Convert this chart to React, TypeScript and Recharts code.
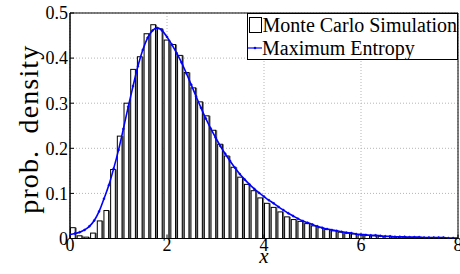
import {
  Bar,
  CartesianGrid,
  ComposedChart,
  Label,
  Legend,
  Line,
  ReferenceArea,
  XAxis,
  YAxis,
} from "recharts";

// histogram bin centres (bin width ~0.138)
const BIN_CENTERS = [
  0.069, 0.207, 0.345, 0.483, 0.621, 0.758, 0.896, 1.034, 1.172, 1.31,
  1.448, 1.586, 1.724, 1.862, 2.0, 2.138, 2.276, 2.414, 2.552, 2.69,
  2.828, 2.966, 3.103, 3.241, 3.379, 3.517, 3.655, 3.793, 3.931, 4.069,
  4.207, 4.345, 4.483, 4.621, 4.759, 4.897, 5.034, 5.172, 5.31, 5.448,
  5.586, 5.724, 5.862, 6.0, 6.138, 6.276, 6.414, 6.552, 6.69, 6.828,
  6.966, 7.103, 7.241, 7.379, 7.517, 7.655, 7.793, 7.931,
];

const MC_DENSITY = [
  0.024, 0.006, 0.003, 0.012, 0.039, 0.062, 0.153, 0.227, 0.3, 0.375,
  0.403, 0.454, 0.474, 0.465, 0.44, 0.43, 0.406, 0.368, 0.334, 0.303,
  0.272, 0.24, 0.209, 0.183, 0.158, 0.136, 0.12, 0.106, 0.09, 0.078,
  0.069, 0.059, 0.048, 0.042, 0.038, 0.033, 0.028, 0.024, 0.02, 0.017,
  0.014, 0.012, 0.01, 0.008, 0.007, 0.006, 0.005, 0.004, 0.003, 0.003,
  0.002, 0.002, 0.001, 0.001, 0.001, 0, 0, 0,
];

const CURVE_X = [
  0, 0.1, 0.2, 0.3, 0.4, 0.5, 0.6, 0.7, 0.8, 0.9,
  1, 1.1, 1.2, 1.3, 1.4, 1.5, 1.6, 1.7, 1.8, 1.9,
  2, 2.1, 2.2, 2.3, 2.4, 2.5, 2.6, 2.7, 2.8, 2.9,
  3, 3.1, 3.2, 3.3, 3.4, 3.5, 3.6, 3.7, 3.8, 3.9,
  4, 4.1, 4.2, 4.3, 4.4, 4.5, 4.6, 4.7, 4.8, 4.9,
  5, 5.1, 5.2, 5.3, 5.4, 5.5, 5.6, 5.7, 5.8, 5.9,
  6, 6.1, 6.2, 6.3, 6.4, 6.5, 6.6, 6.7, 6.8, 6.9,
  7, 7.1, 7.2, 7.3, 7.4, 7.5, 7.6, 7.7, 7.8, 7.9, 8,
];

const ME_DENSITY = [
  0.009, 0.011, 0.014, 0.019, 0.027, 0.04, 0.06, 0.088, 0.118, 0.155,
  0.196, 0.243, 0.292, 0.338, 0.382, 0.418, 0.445, 0.461, 0.467, 0.461,
  0.447, 0.43, 0.411, 0.39, 0.366, 0.341, 0.315, 0.29, 0.266, 0.244,
  0.224, 0.205, 0.188, 0.172, 0.157, 0.143, 0.131, 0.12, 0.11, 0.101,
  0.093, 0.085, 0.078, 0.07, 0.063, 0.056, 0.05, 0.044, 0.039, 0.035,
  0.031, 0.027, 0.024, 0.021, 0.019, 0.017, 0.015, 0.013, 0.012, 0.01,
  0.009, 0.008, 0.007, 0.007, 0.006, 0.005, 0.005, 0.004, 0.004, 0.004,
  0.003, 0.003, 0.003, 0.002, 0.002, 0.002, 0.002, 0.002, 0.001, 0.001, 0.001,
];

const X_TICKS = [0, 2, 4, 6, 8];
const Y_TICKS = [0, 0.1, 0.2, 0.3, 0.4, 0.5];

const SERIF = "Liberation Serif, DejaVu Serif, Noto Serif, serif";
const BLUE = "#0000ff";

const binRows = BIN_CENTERS.map((x, i) => ({ x, mc: MC_DENSITY[i] }));
const curveRows = CURVE_X.map((x, i) => ({ cx: x, me: ME_DENSITY[i] }));

function HistBar(props: any) {
  const { x, y, width, height } = props;
  if (x == null || y == null || !width || !height || height <= 0) return null;
  const w = width * 0.72;
  return (
    <g>
      <rect x={x + w} y={y} width={width - w + 0.2} height={height} fill="#6e6e6e" />
      <rect
        x={x + 0.5}
        y={y}
        width={w}
        height={height}
        fill="#fff"
        stroke="#000"
        strokeWidth={1}
      />
    </g>
  );
}

function LegendBox(props: any) {
  const items = props.payload || [];
  const mc = items.find((p: any) => p.dataKey === "mc");
  const me = items.find((p: any) => p.dataKey === "me");
  const row = {
    display: "flex",
    alignItems: "center",
    height: 22.5,
    whiteSpace: "nowrap" as const,
  };
  return (
    <div
      style={{
        border: "1px solid #000",
        background: "#fff",
        fontFamily: SERIF,
        fontSize: 20,
        lineHeight: "22px",
        color: "#000",
        width: 209,
        boxSizing: "content-box",
      }}
    >
      <div style={row}>
        <span
          style={{
            display: "inline-block",
            width: 11,
            height: 14,
            border: "1px solid #000",
            marginLeft: 1,
            marginRight: 1,
          }}
        />
        {mc ? mc.value : "Monte Carlo Simulation"}
      </div>
      <div style={row}>
        <svg width={14} height={10}>
          <line x1={0} y1={5} x2={14} y2={5} stroke={BLUE} strokeWidth={1.2} />
          <circle cx={7} cy={5} r={1.3} fill={BLUE} />
        </svg>
        {me ? me.value : "Maximum Entropy"}
      </div>
    </div>
  );
}

function YLabel(props: any) {
  const vb = props.viewBox || { x: 0, y: 13, height: 225 };
  const cx = vb.x + 28;
  const cy = vb.y + vb.height / 2 + 4;
  return (
    <text
      x={cx}
      y={cy}
      transform={`rotate(-90 ${cx} ${cy})`}
      textAnchor="middle"
      dominantBaseline="central"
      fontSize={28}
      fontFamily={SERIF}
      fill="#000"
      textLength={168}
      lengthAdjust="spacing"
      style={{ whiteSpace: "pre" }}
    >
      {"prob.  density"}
    </text>
  );
}

function XLabel(props: any) {
  const vb = props.viewBox || { x: 70, y: 238, width: 388 };
  return (
    <text
      x={vb.x + vb.width / 2}
      y={vb.y + 24}
      textAnchor="middle"
      fontSize={21}
      fontStyle="italic"
      fontFamily={SERIF}
      fill="#000"
    >
      x
    </text>
  );
}

export default function App() {
  return (
    <div
      style={{
        position: "absolute",
        left: 0,
        top: 0,
        width: 460,
        height: 274,
        background: "#fff",
      }}
    >
      <ComposedChart
        width={460}
        height={274}
        data={binRows}
        barCategoryGap={0}
        margin={{ top: 13, right: 2, bottom: 0, left: 0 }}
      >
        <CartesianGrid stroke="#b5b5b5" strokeDasharray="1 2" />
        <XAxis
          dataKey="x"
          type="number"
          domain={[0, 8]}
          ticks={X_TICKS}
          interval={0}
          allowDataOverflow
          height={35.5}
          tickSize={-4}
          tickMargin={4}
          axisLine={{ stroke: "#000" }}
          tickLine={{ stroke: "#000" }}
          tick={{ fontSize: 18, fill: "#000", fontFamily: SERIF }}
        >
          <Label content={<XLabel />} />
        </XAxis>
        <XAxis
          xAxisId="curve"
          dataKey="cx"
          type="number"
          domain={[0, 8]}
          allowDataOverflow
          hide
        />
        <YAxis
          type="number"
          domain={[0, 0.5]}
          ticks={Y_TICKS}
          interval={0}
          allowDataOverflow
          width={70}
          tickSize={-4}
          tickMargin={6}
          axisLine={{ stroke: "#000" }}
          tickLine={{ stroke: "#000" }}
          tick={{ fontSize: 18, fill: "#000", fontFamily: SERIF }}
        >
          <Label content={<YLabel />} />
        </YAxis>
        <Bar
          dataKey="mc"
          name="Monte Carlo Simulation"
          barSize={6.5}
          shape={<HistBar />}
          isAnimationActive={false}
        />
        <Line
          xAxisId="curve"
          data={curveRows}
          dataKey="me"
          name="Maximum Entropy"
          type="monotone"
          stroke={BLUE}
          strokeWidth={1.6}
          dot={{ r: 1, fill: BLUE, stroke: BLUE, strokeWidth: 0.5 }}
          activeDot={false}
          isAnimationActive={false}
        />
        <ReferenceArea
          x1={0}
          x2={8}
          y1={0}
          y2={0.5}
          fill="none"
          stroke="#000"
          strokeWidth={1}
          ifOverflow="visible"
        />
        <Legend
          layout="vertical"
          align="center"
          verticalAlign="middle"
          content={<LegendBox />}
          wrapperStyle={{ top: 13, left: 247, width: "auto", height: "auto" }}
        />
      </ComposedChart>
    </div>
  );
}
